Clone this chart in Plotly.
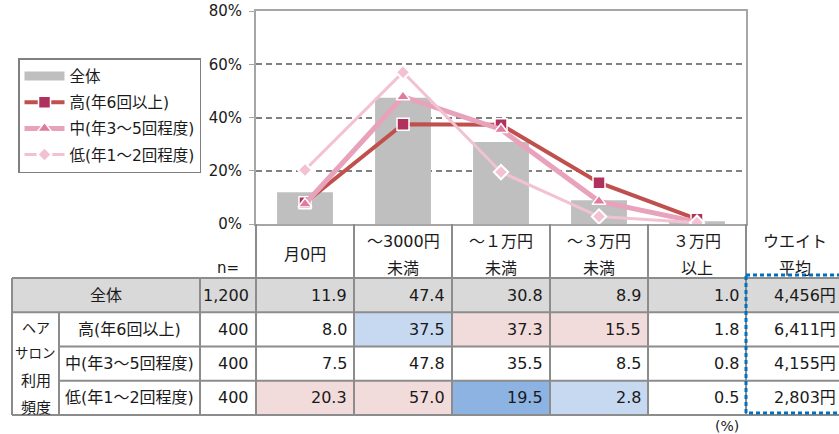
import plotly.graph_objects as go

# ---------------- data ----------------
categories = ["月0円", "～3000円未満", "～１万円未満", "～３万円未満", "３万円以上"]
header_top = ["月0円", "～3000円", "～１万円", "～３万円", "３万円", "ウエイト"]
header_bottom = ["", "未満", "未満", "未満", "以上", "平均"]
row_names = ["全体", "高(年6回以上)", "中(年3～5回程度)", "低(年1～2回程度)"]
series_names = ["高(年6回以上)", "中(年3～5回程度)", "低(年1～2回程度)"]
n_values = ["1,200", "400", "400", "400"]
total = [11.9, 47.4, 30.8, 8.9, 1.0]
high = [8.0, 37.5, 37.3, 15.5, 1.8]
mid = [7.5, 47.8, 35.5, 8.5, 0.8]
low = [20.3, 57.0, 19.5, 2.8, 0.5]
weighted_avg = ["4,456円", "6,411円", "4,155円", "2,803円"]
highlight = [
    ["", "", "", "", ""],
    ["", "b", "p", "p", ""],
    ["", "", "", "", ""],
    ["p", "p", "B", "b", ""],
]
group_label = ["ヘア", "サロン", "利用", "頻度"]
y_ticks = [0, 20, 40, 60, 80]
y_tick_text = ["0%", "20%", "40%", "60%", "80%"]

# ---------------- layout constants ----------------
W, H = 839, 434
CW = 98.0            # column width px
PL, PR = 256, 746    # plot area left/right px
PT, PB = 11, 224     # plot area top/bottom px
RT, RH = 278, 34.25  # table first row top px, row height
FONT = "DejaVu Sans, Noto Sans CJK JP"
JFONT = "Noto Sans CJK JP"
TXT = "#1a1a1a"
GRID = "#808080"
BORDER = "#8c8c8c"
fill_map = {"p": "#f2dcdb", "b": "#c6d9f0", "B": "#8db3e2"}
group_sizes = [14, 13.5, 15, 15]
group_py = [327, 352, 379, 406]

def px2x(px):
    return (px - PL) / CW - 0.5

def py2y(py):
    return (py - RT) / RH

xs = list(range(len(categories)))
rows_vals = [total, high, mid, low]

fig = go.Figure()
fig.add_trace(go.Bar(x=xs, y=total, width=0.57, marker_color="#bfbfbf",
                     marker_line_width=0, name="全体", showlegend=False,
                     hovertext=categories))
fig.add_trace(go.Scatter(x=[None], y=[None], mode="lines", name="全体",
                         line=dict(color="#bfbfbf", width=9), legendgroup="g0"))
styles = [
    dict(line=dict(color="#c0504d", width=4),
         marker=dict(symbol="square", size=12, color="#b0305e", line=dict(color="white", width=1.5))),
    dict(line=dict(color="#e8a2bc", width=5),
         marker=dict(symbol="triangle-up", size=12, color="#e07a9e", line=dict(color="white", width=1.5))),
    dict(line=dict(color="#f2c2d2", width=3),
         marker=dict(symbol="diamond", size=11, color="#f2c2d2", line=dict(color="white", width=2))),
]
for i, (nm, vals) in enumerate(zip(series_names, [high, mid, low])):
    fig.add_trace(go.Scatter(x=xs, y=vals, mode="lines+markers", name=nm,
                             legendgroup="g%d" % (i + 1), hovertext=categories, **styles[i]))

# invisible anchor trace for the table axes
fig.add_trace(go.Scatter(x=[0], y=[0], xaxis="x2", yaxis="y2", mode="markers",
                         marker=dict(opacity=0), showlegend=False, hoverinfo="skip"))

shapes = []
annotations = []

xl, xg, xn, xd = px2x(12), px2x(59), px2x(200), px2x(256)
xr = px2x(850)
nrows = len(row_names)

# row 0 gray fill
shapes.append(dict(type="rect", xref="x2", yref="y2", x0=xl, x1=xr, y0=0, y1=1,
                   fillcolor="#d9d9d9", line_width=0, layer="above"))
# highlight cells
for r in range(nrows):
    for c in range(len(categories)):
        code = highlight[r][c]
        if code:
            shapes.append(dict(type="rect", xref="x2", yref="y2", x0=c - 0.5, x1=c + 0.5,
                               y0=r, y1=r + 1, fillcolor=fill_map[code], line_width=0, layer="above"))

bl = dict(color=BORDER, width=2)
# horizontal lines
shapes.append(dict(type="line", xref="x2", yref="y2", x0=xl, x1=xr, y0=0, y1=0, line=bl, layer="above"))
shapes.append(dict(type="line", xref="x2", yref="y2", x0=xl, x1=xr, y0=1, y1=1, line=bl, layer="above"))
for r in range(2, nrows):
    shapes.append(dict(type="line", xref="x2", yref="y2", x0=xg, x1=xr, y0=r, y1=r, line=bl, layer="above"))
shapes.append(dict(type="line", xref="x2", yref="y2", x0=xl, x1=xr, y0=nrows, y1=nrows, line=bl, layer="above"))
# vertical lines
shapes.append(dict(type="line", xref="x2", yref="y2", x0=xl, x1=xl, y0=0, y1=nrows, line=bl, layer="above"))
shapes.append(dict(type="line", xref="x2", yref="y2", x0=xg, x1=xg, y0=1, y1=nrows, line=bl, layer="above"))
shapes.append(dict(type="line", xref="x2", yref="y2", x0=xn, x1=xn, y0=0, y1=nrows, line=bl, layer="above"))
ychart = py2y(PB)
for c in range(len(categories) + 1):
    xe = c - 0.5
    shapes.append(dict(type="line", xref="x2", yref="y2", x0=xe, x1=xe, y0=ychart, y1=nrows,
                       line=bl, layer="above"))
# dotted blue box around weighted average
shapes.append(dict(type="rect", xref="x2", yref="y2", x0=4.5, x1=px2x(845),
                   y0=py2y(275), y1=py2y(413), line=dict(color="#0070c0", width=3, dash="4px,3px"),
                   fillcolor="rgba(0,0,0,0)", layer="above"))

def ann(x, y, text, xanchor="center", size=16, family=FONT):
    annotations.append(dict(xref="x2", yref="y2", x=x, y=y, text=text, showarrow=False,
                            xanchor=xanchor, yanchor="middle",
                            font=dict(family=family, size=size, color=TXT)))

# headers
for c in range(len(header_top)):
    if header_bottom[c]:
        ann(c, py2y(241), header_top[c])
        ann(c, py2y(268), header_bottom[c])
    else:
        ann(c, py2y(254), header_top[c])
ann(px2x(228), py2y(268), "n=", size=15)
# rows
for r in range(nrows):
    yc = r + 0.5
    if r == 0:
        ann((xl + xn) / 2, yc, row_names[r])
    else:
        ann((xg + xn) / 2, yc, row_names[r])
    ann(-0.5 - 0.05, yc, n_values[r], "right")
    for c, v in enumerate(rows_vals[r]):
        ann(c + 0.5 - 0.05, yc, "%.1f" % v, "right")
    ann(px2x(838), yc, weighted_avg[r], "right")
for t, py, sz in zip(group_label, group_py, group_sizes):
    ann((xl + xg) / 2, py2y(py), t, size=sz, family=JFONT)
ann(px2x(727), py2y(426), "(%)", size=14)

fig.update_layout(
    width=W, height=H, autosize=False,
    margin=dict(l=0, r=0, t=0, b=0, pad=0),
    paper_bgcolor="white", plot_bgcolor="rgba(0,0,0,0)",
    font=dict(family=FONT, size=15, color=TXT),
    showlegend=True,
    legend=dict(x=18 / W, y=1 - 58 / H, xanchor="left", yanchor="top",
                bordercolor="#808080", borderwidth=1.5, bgcolor="white",
                font=dict(family=FONT, size=15.5, color=TXT), tracegroupgap=3,
                itemwidth=40, traceorder="grouped"),
    xaxis=dict(domain=[PL / W, PR / W], range=[-0.5, 4.5], showticklabels=False,
               showgrid=False, zeroline=False, showline=True, mirror=True, automargin=False,
               linecolor="#a6a6a6", linewidth=2, ticks="", fixedrange=True),
    yaxis=dict(domain=[(H - PB) / H, (H - PT) / H], range=[0, 80], tickmode="array",
               tickvals=y_ticks, ticktext=y_tick_text, automargin=False,
               showgrid=True, gridcolor=GRID, gridwidth=1.5, griddash="6px,4px",
               zeroline=False, showline=True, mirror=True, linecolor="#a6a6a6", linewidth=2,
               ticks="outside", ticklen=5, tickcolor="#a6a6a6", ticklabelstandoff=4,
               tickfont=dict(family=FONT, size=15, color=TXT), fixedrange=True),
    xaxis2=dict(domain=[0, 1], anchor="y2", range=[px2x(0), px2x(W)], visible=False,
                fixedrange=True, automargin=False),
    yaxis2=dict(domain=[0, 1], anchor="x2", range=[py2y(H), py2y(0)], visible=False,
                fixedrange=True, automargin=False),
    shapes=shapes,
    annotations=annotations,
)
fig.write_html("out.html", config={"displayModeBar": False},
               post_script="document.body.style.margin='0';document.body.style.overflow='hidden';")
